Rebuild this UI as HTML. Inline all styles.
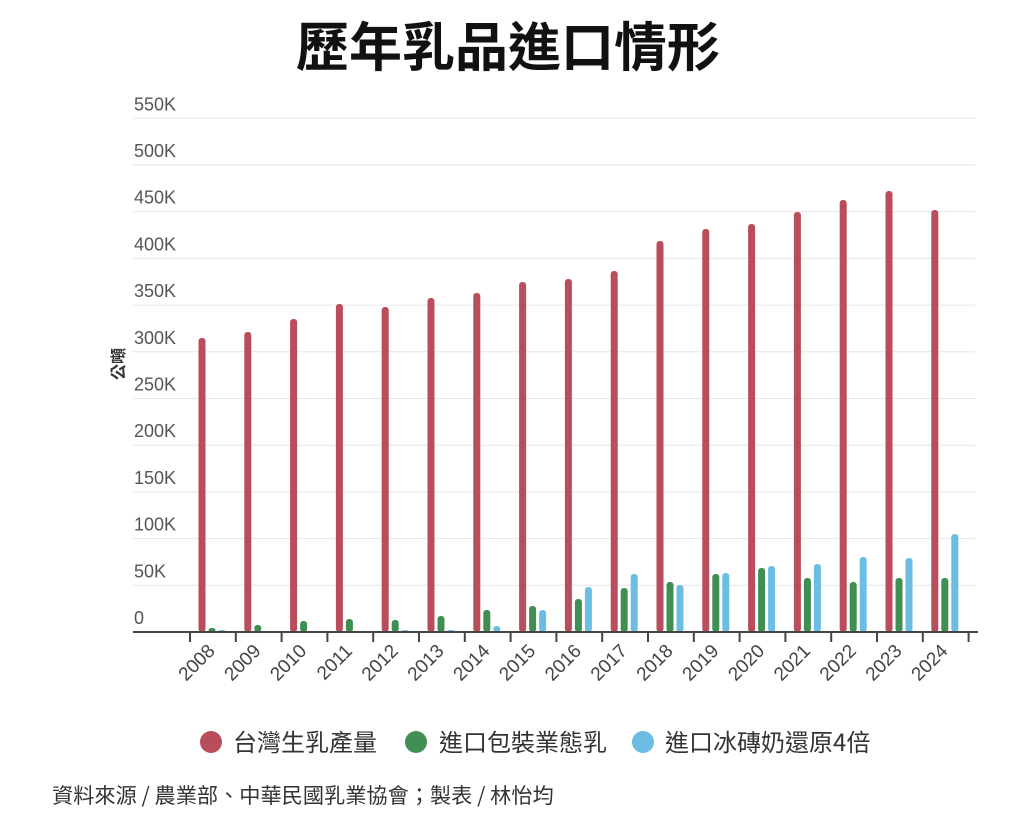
<!DOCTYPE html>
<html><head><meta charset="utf-8"><style>
body{margin:0;background:#fff;width:1024px;height:823px;overflow:hidden;font-family:"Liberation Sans","Noto Sans CJK TC",sans-serif}
</style></head><body>
<svg width="1024" height="823" xmlns="http://www.w3.org/2000/svg" font-family="Liberation Sans, Noto Sans CJK TC, sans-serif">
<text x="508" y="66" text-anchor="middle" font-size="53" font-weight="bold" fill="#111" font-family="Noto Sans CJK TC, sans-serif">歷年乳品進口情形</text>
<g id="grid"></g>
<g id="bars"></g>
<text transform="translate(124,364) rotate(-90)" text-anchor="middle" font-size="16" font-weight="bold" fill="#333" font-family="Noto Sans CJK TC, sans-serif">公噸</text>
<line x1="133" y1="632" x2="978" y2="632" stroke="#444" stroke-width="2"/>
<g id="ticks"></g>
<circle cx="211" cy="742" r="11" fill="#b94d5c"/>
<text x="233" y="751" font-size="24" fill="#333" font-family="Noto Sans CJK TC, sans-serif">台灣生乳產量</text>
<circle cx="416" cy="742" r="11" fill="#3f8f54"/>
<text x="439" y="751" font-size="24" fill="#333" font-family="Noto Sans CJK TC, sans-serif">進口包裝業態乳</text>
<circle cx="643" cy="742" r="11" fill="#6bbde3"/>
<text x="665" y="751" font-size="24" fill="#333" font-family="Noto Sans CJK TC, sans-serif">進口冰磚奶還原4倍</text>
<text x="52" y="803" font-size="21.2" fill="#333" font-family="Noto Sans CJK TC, sans-serif">資料來源 / 農業部、中華民國乳業協會；製表 / 林怡均</text>
</svg>
<script>
const ns="http://www.w3.org/2000/svg";
function el(p,t,a,txt){const e=document.createElementNS(ns,t);for(const k in a)e.setAttribute(k,a[k]);if(txt)e.textContent=txt;document.getElementById(p).appendChild(e);}
const labs=["0","50K","100K","150K","200K","250K","300K","350K","400K","450K","500K","550K"];
for(let i=0;i<12;i++){const y=632-i*46.7;
 if(i>0)el("grid","line",{x1:133,x2:975,y1:y,y2:y,stroke:"#e6e6e6","stroke-width":1});
 el("grid","text",{x:134,y:y-8,"font-size":18,fill:"#555"},labs[i]);}
const red=[338,332,319,304,307,298,293,282,279,271,241,229,224,212,200,191,210];
const grn=[628,625,621,619,620,616,610,606,599,588,582,574,568,578,582,578,578];
const blu=[630,631,631,631,630,630,626,610,587,574,585,573,566,564,557,558,534];
for(let i=0;i<17;i++){const x=202+i*45.8;
 [[red[i],0,"#b94d5c"],[grn[i],10,"#3f8f54"],[blu[i],20,"#6bbde3"]].forEach(([t,o,c])=>{
  el("bars","rect",{x:x+o-3.5,y:t,width:7,height:632-t,rx:3,fill:c});});
 const tx=190+i*45.8; el("ticks","line",{x1:tx,x2:tx,y1:632,y2:642,stroke:"#444","stroke-width":2});
 el("ticks","text",{transform:`translate(${x+14},${652}) rotate(-45)`,"text-anchor":"end","font-size":19,fill:"#444"},String(2008+i));}
el("ticks","line",{x1:190+17*45.8,x2:190+17*45.8,y1:632,y2:642,stroke:"#444","stroke-width":2});
</script>
</body></html>
